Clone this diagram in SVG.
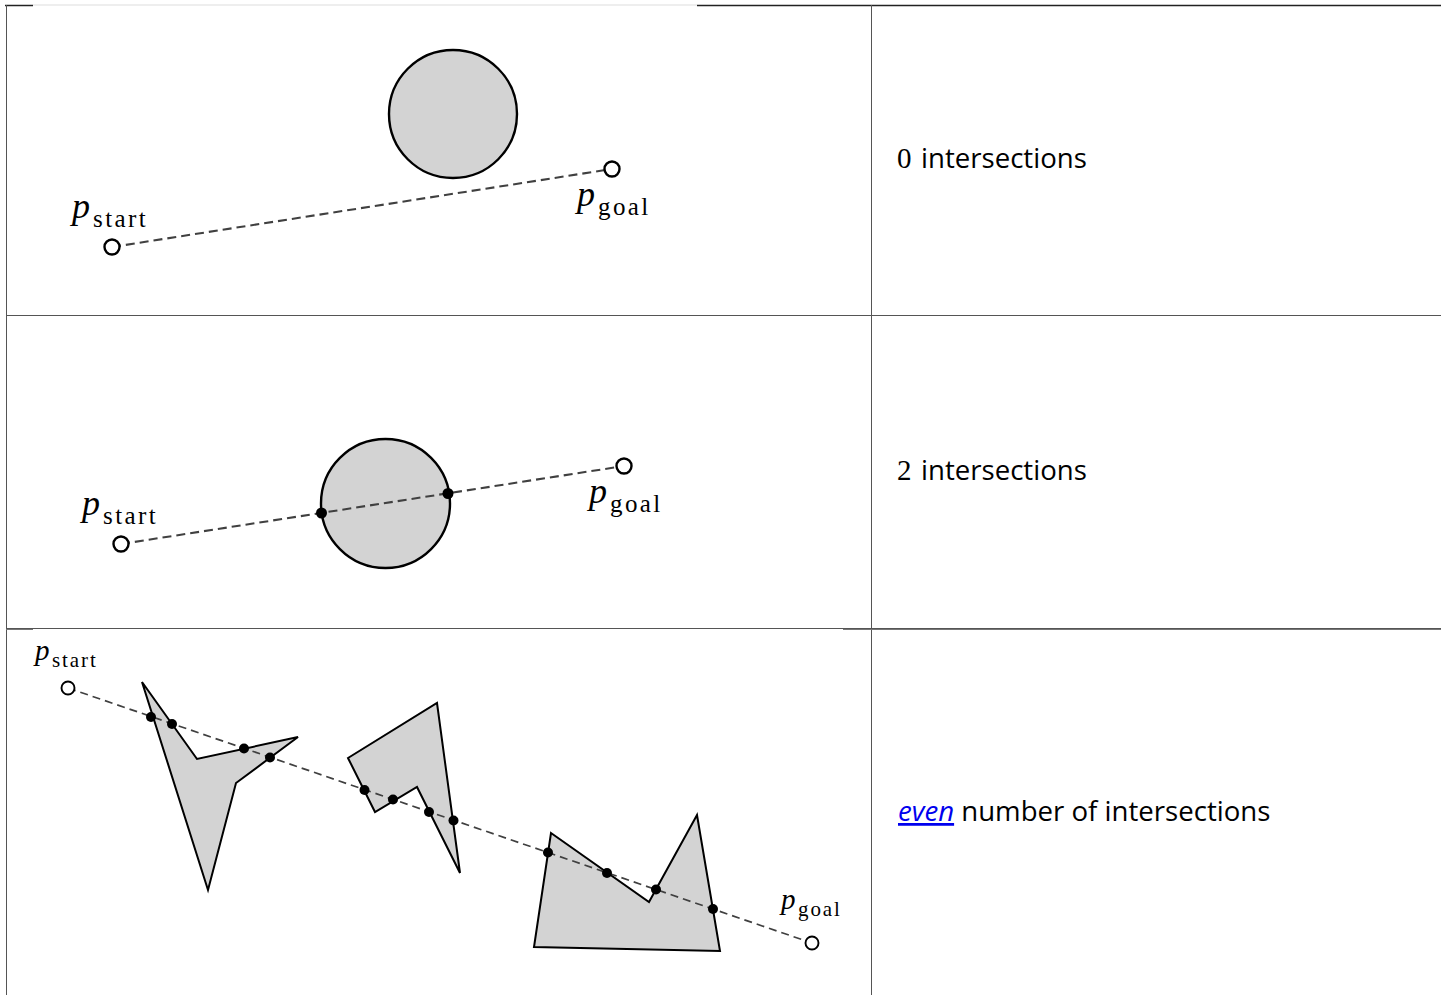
<svg xmlns="http://www.w3.org/2000/svg" width="1441" height="995" viewBox="0 0 1441 995">
<style>
.grid{stroke:#555;stroke-width:1;fill:none}
.obst{fill:#d3d3d3;stroke:#000;stroke-width:2.4;stroke-linejoin:miter}
.obst3{fill:#d3d3d3;stroke:#000;stroke-width:2;stroke-linejoin:miter}
.path{stroke:#404040;stroke-width:2.1;stroke-dasharray:9,5;fill:none}
.path3{stroke:#404040;stroke-width:1.7;stroke-dasharray:8,5;fill:none}
.ep{fill:#fff;stroke:#000;stroke-width:2.4}
.ep3{fill:#fff;stroke:#000;stroke-width:1.9}
.hit{fill:#000}
.pv{font-family:"Liberation Serif",serif;font-style:italic}
.sub{font-family:"Liberation Serif",serif}
.num{font-family:"Liberation Serif",serif;font-size:29px;fill:#000}
.txt{font-family:"Open Sans",sans-serif;font-size:27.6px;fill:#000}
.link{font-family:"Open Sans",sans-serif;font-size:27.6px;font-style:italic;fill:#0000ee;text-decoration:underline}
</style>
<rect width="1441" height="995" fill="#fff"/>
<g id="table">
<line class="grid" x1="5" y1="5.5" x2="33" y2="5.5" style="stroke:#222;stroke-width:1.5"/>
<line class="grid" x1="33" y1="5" x2="697" y2="5" style="stroke:#ddd"/>
<line class="grid" x1="697" y1="5.5" x2="1441" y2="5.5" style="stroke:#222;stroke-width:1.5"/>
<line class="grid" x1="6.5" y1="5" x2="6.5" y2="995"/>
<line class="grid" x1="871.5" y1="5" x2="871.5" y2="995"/>
<line class="grid" x1="6" y1="315.5" x2="1441" y2="315.5"/>
<line class="grid" x1="6" y1="628.5" x2="1441" y2="628.5"/>
<line class="grid" x1="843" y1="629.5" x2="1441" y2="629.5" style="stroke:#777"/>
<line class="grid" x1="6" y1="629.5" x2="33" y2="629.5" style="stroke:#777"/>
</g>
<g id="row1">
<circle id="obstacle1" class="obst" cx="453" cy="114" r="64"/>
<g id="connectors1"><line class="path" x1="112" y1="247" x2="612" y2="169"/></g>
<circle id="start1" class="ep" cx="112" cy="247" r="7.5"/>
<circle id="goal1" class="ep" cx="612" cy="169" r="7.5"/>
<text x="72" y="218" font-size="36" class="pv">p</text>
<text x="93" y="227" font-size="25" letter-spacing="2.4" class="sub">start</text>
<text x="577" y="206" font-size="36" class="pv">p</text>
<text x="598" y="215" font-size="25" letter-spacing="2.4" class="sub">goal</text>
<text x="897" y="168" class="num">0</text>
<text x="921" y="168" class="txt">intersections</text>
</g>
<g id="row2">
<circle id="obstacle2" class="obst" cx="385.5" cy="503.5" r="64.5"/>
<g id="connectors2"><line class="path" x1="121" y1="544" x2="624" y2="466"/></g>
<circle class="hit" cx="321.5" cy="513" r="5.5"/>
<circle class="hit" cx="448" cy="493.5" r="5.5"/>
<circle id="start2" class="ep" cx="121" cy="544" r="7.5"/>
<circle id="goal2" class="ep" cx="624" cy="466" r="7.5"/>
<text x="82" y="515" font-size="36" class="pv">p</text>
<text x="103" y="524" font-size="25" letter-spacing="2.4" class="sub">start</text>
<text x="589" y="503" font-size="36" class="pv">p</text>
<text x="610" y="512" font-size="25" letter-spacing="2.4" class="sub">goal</text>
<text x="897" y="480" class="num">2</text>
<text x="921" y="480" class="txt">intersections</text>
</g>
<g id="row3">
<polygon id="poly1" class="obst3" points="142,682 197,759 298,737 236,783 208,890"/>
<polygon id="poly2" class="obst3" points="348,758 437,703 460,873 417,787 375,812"/>
<polygon id="poly3" class="obst3" points="551,833 649,902 697,815 720,951 534,947"/>
<g id="connectors3"><line class="path3" x1="68" y1="688" x2="812" y2="943"/></g>
<g id="hits3">
<circle class="hit" cx="151" cy="717" r="5"/>
<circle class="hit" cx="172" cy="724" r="5"/>
<circle class="hit" cx="244" cy="748.5" r="5"/>
<circle class="hit" cx="270" cy="757.5" r="5"/>
<circle class="hit" cx="364.5" cy="790" r="5"/>
<circle class="hit" cx="393" cy="799.5" r="5"/>
<circle class="hit" cx="429" cy="812" r="5"/>
<circle class="hit" cx="453.5" cy="820.5" r="5"/>
<circle class="hit" cx="548" cy="852.5" r="5"/>
<circle class="hit" cx="607" cy="873" r="5"/>
<circle class="hit" cx="656" cy="889.5" r="5"/>
<circle class="hit" cx="713" cy="909" r="5"/>
</g>
<circle id="start3" class="ep3" cx="68" cy="688" r="6.5"/>
<circle id="goal3" class="ep3" cx="812" cy="943" r="6.5"/>
<text x="35" y="660" font-size="29" class="pv">p</text>
<text x="52" y="667" font-size="21" letter-spacing="1.9" class="sub">start</text>
<text x="781" y="909" font-size="29" class="pv">p</text>
<text x="798" y="916" font-size="21" letter-spacing="1.9" class="sub">goal</text>
<text x="898" y="821"><tspan class="link">even</tspan><tspan class="txt"> number of intersections</tspan></text>
</g>
</svg>
